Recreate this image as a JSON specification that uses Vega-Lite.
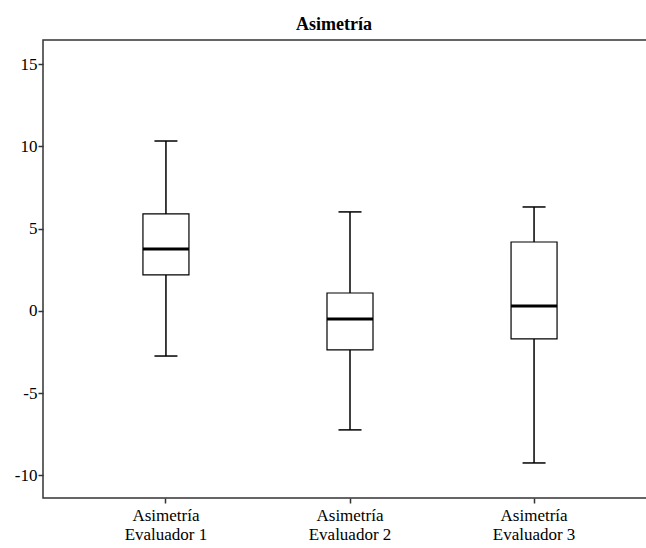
{
  "$schema": "https://vega.github.io/schema/vega-lite/v6.json",
  "autosize": {"type": "none"},
  "padding": {"left": 43, "top": 40, "right": 0, "bottom": 50},
  "width": 614,
  "height": 458,
  "background": "white",
  "title": {
    "text": "Asimetría",
    "font": "Times New Roman, Liberation Serif, DejaVu Serif, serif",
    "fontSize": 18,
    "fontWeight": "bold",
    "color": "black",
    "anchor": "middle",
    "dx": -16,
    "offset": 6
  },
  "config": {
    "view": {"stroke": "#333333", "strokeWidth": 1.5},
    "axis": {
      "labelFont": "Times New Roman, Liberation Serif, DejaVu Serif, serif",
      "labelFontSize": 17,
      "labelColor": "black",
      "tickColor": "#333333",
      "tickWidth": 1.5,
      "tickSize": 5,
      "domain": false,
      "grid": false,
      "title": null
    }
  },
  "data": {
    "values": [
      {"grupo": "Evaluador 1", "min": -2.74, "q1": 2.19, "med": 3.77, "q3": 5.90, "max": 10.33},
      {"grupo": "Evaluador 2", "min": -7.23, "q1": -2.37, "med": -0.49, "q3": 1.09, "max": 6.02},
      {"grupo": "Evaluador 3", "min": -9.24, "q1": -1.70, "med": 0.30, "q3": 4.19, "max": 6.32}
    ]
  },
  "encoding": {
    "x": {
      "field": "grupo",
      "type": "nominal",
      "scale": {"paddingInner": 0, "paddingOuter": 0.168},
      "axis": {"labelAngle": 0, "labelPadding": 4, "labelExpr": "['Asimetría', datum.value]", "labelLineHeight": 19}
    }
  },
  "layer": [
    {
      "mark": {"type": "rule", "color": "black", "strokeWidth": 1.5},
      "encoding": {
        "y": {"field": "min", "type": "quantitative", "scale": {"domain": [-11.37, 16.47], "nice": false, "zero": false}, "axis": {"values": [-10, -5, 0, 5, 10, 15], "labelPadding": 1, "labelExpr": "toString(datum.value)"}},
        "y2": {"field": "max"}
      }
    },
    {
      "mark": {"type": "bar", "width": 46, "fill": "white", "stroke": "black", "strokeWidth": 1.2},
      "encoding": {
        "y": {"field": "q1", "type": "quantitative"},
        "y2": {"field": "q3"}
      }
    },
    {
      "mark": {"type": "tick", "color": "black", "size": 46, "thickness": 3, "opacity": 1},
      "encoding": {"y": {"field": "med", "type": "quantitative"}}
    },
    {
      "mark": {"type": "tick", "color": "black", "size": 23, "thickness": 1.5, "opacity": 1},
      "encoding": {"y": {"field": "min", "type": "quantitative"}}
    },
    {
      "mark": {"type": "tick", "color": "black", "size": 23, "thickness": 1.5, "opacity": 1},
      "encoding": {"y": {"field": "max", "type": "quantitative"}}
    }
  ]
}
